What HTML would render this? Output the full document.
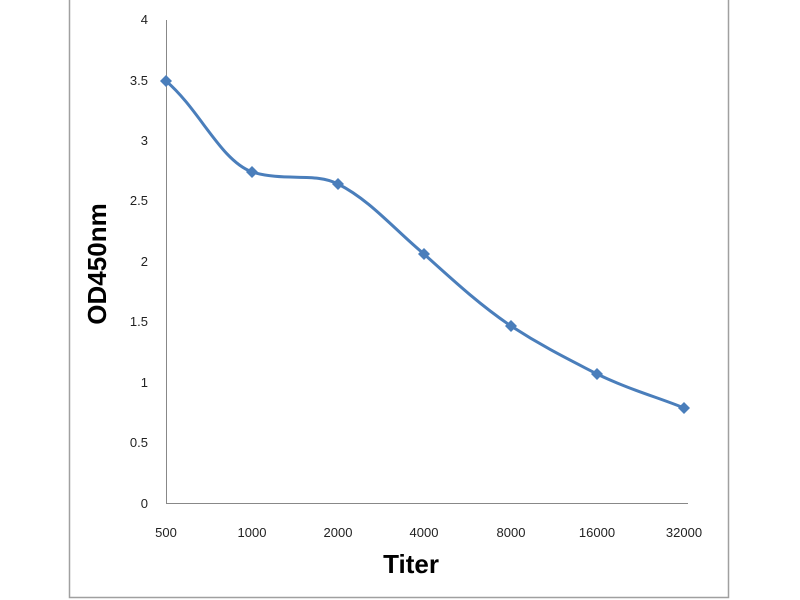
<!DOCTYPE html>
<html><head><style>body{margin:0;background:#fff}svg{display:block}</style></head><body>
<svg width="800" height="600" xmlns="http://www.w3.org/2000/svg" font-family="Liberation Sans, sans-serif">
<rect x="0" y="0" width="800" height="600" fill="#fff"/>
<path d="M69.5,0 V597.5 H728.5 V0" fill="none" stroke="#a0a0a0" stroke-width="1.5"/>
<line x1="166.5" y1="20" x2="166.5" y2="503" stroke="#888" stroke-width="1"/>
<line x1="166" y1="503.5" x2="688" y2="503.5" stroke="#888" stroke-width="1"/>
<g font-size="13" fill="#222" text-anchor="end">
<text x="148" y="24">4</text>
<text x="148" y="85">3.5</text>
<text x="148" y="145">3</text>
<text x="148" y="205">2.5</text>
<text x="148" y="266">2</text>
<text x="148" y="326">1.5</text>
<text x="148" y="387">1</text>
<text x="148" y="447">0.5</text>
<text x="148" y="508">0</text>
</g>
<g font-size="13" fill="#222" text-anchor="middle">
<text x="166" y="537">500</text>
<text x="252" y="537">1000</text>
<text x="338" y="537">2000</text>
<text x="424" y="537">4000</text>
<text x="511" y="537">8000</text>
<text x="597" y="537">16000</text>
<text x="684" y="537">32000</text>
</g>
<text x="411" y="573" font-size="26" font-weight="bold" text-anchor="middle" fill="#000">Titer</text>
<text transform="translate(106,264) rotate(-90)" font-size="26" font-weight="bold" text-anchor="middle" fill="#000">OD450nm</text>
<path d="M166,81 C200,110 220,160 252,172 C285,182 315,172 338,184 C370,200 395,230 424,254 C455,282 480,305 511,326 C545,348 570,360 597,374 C630,390 660,398 684,408" fill="none" stroke="#4a7ebb" stroke-width="3"/>
<g fill="#4a7ebb">
<path d="M166,75 l6,6 -6,6 -6,-6z"/>
<path d="M252,166 l6,6 -6,6 -6,-6z"/>
<path d="M338,178 l6,6 -6,6 -6,-6z"/>
<path d="M424,248 l6,6 -6,6 -6,-6z"/>
<path d="M511,320 l6,6 -6,6 -6,-6z"/>
<path d="M597,368 l6,6 -6,6 -6,-6z"/>
<path d="M684,402 l6,6 -6,6 -6,-6z"/>
</g>
</svg>
</body></html>
